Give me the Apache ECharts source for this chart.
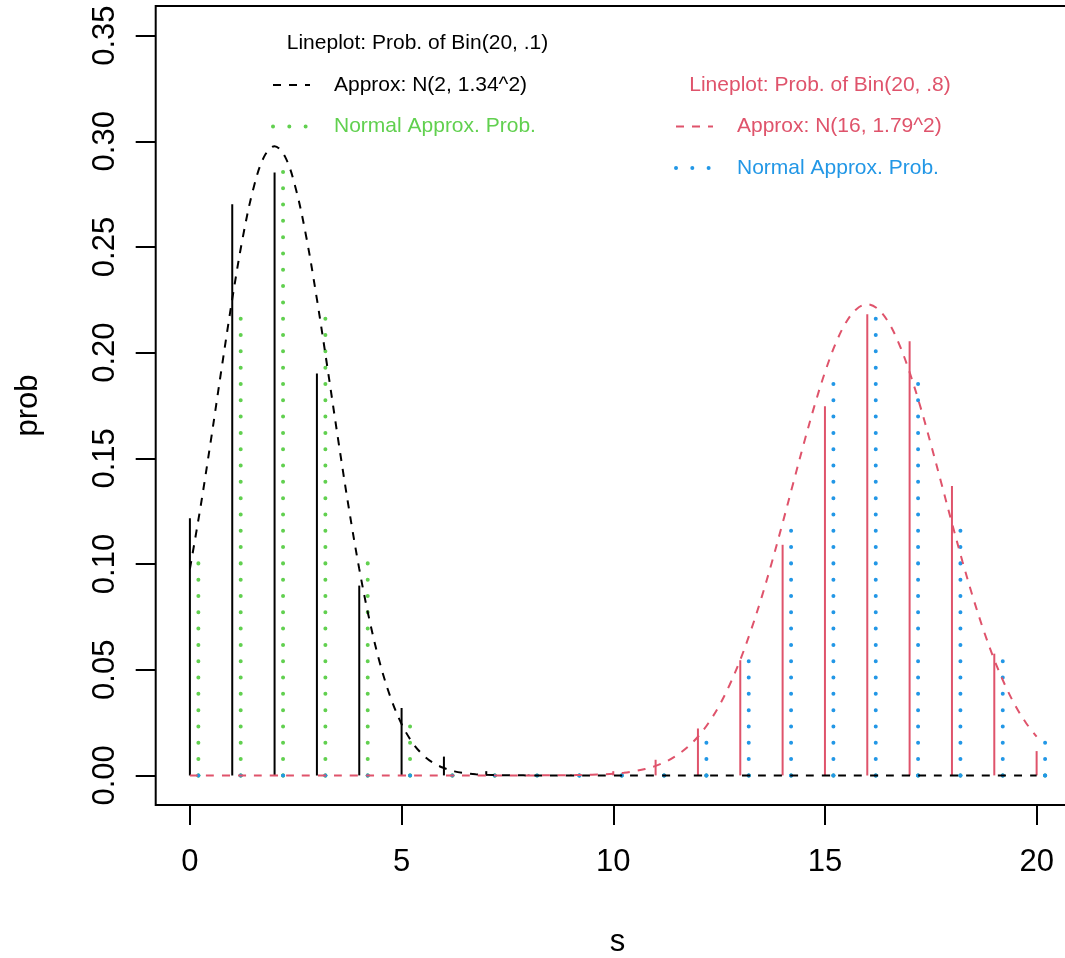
<!DOCTYPE html>
<html>
<head>
<meta charset="utf-8">
<script src="https://cdn.jsdelivr.net/npm/echarts@6/dist/echarts.min.js"></script>
<style>
html,body{margin:0;padding:0;background:#fff;}
#chart{width:1065px;height:958px;}
</style>
</head>
<body>
<div id="chart"></div>
<script>
// ---- data ----
const sValues = [0,1,2,3,4,5,6,7,8,9,10,11,12,13,14,15,16,17,18,19,20];
const binProb01 = [0.1216,0.2702,0.2852,0.1901,0.0898,0.0319,0.0089,0.0020,0.0004,0.0001,0,0,0,0,0,0,0,0,0,0,0];
const normProb01 = [0.1005,0.2230,0.2909,0.2230,0.1005,0.0265,0.0041,0.0004,0,0,0,0,0,0,0,0,0,0,0,0,0];
const binProb08 = [0,0,0,0,0,0,0,0,0.0001,0.0005,0.0020,0.0074,0.0222,0.0545,0.1091,0.1746,0.2182,0.2054,0.1369,0.0576,0.0115];
const normProb08 = [0,0,0,0,0,0,0,0,0,0.0001,0.0009,0.0049,0.0193,0.0560,0.1197,0.1890,0.2200,0.1890,0.1197,0.0560,0.0193];

const curve1X = [0,0.25,0.5,0.75,1,1.25,1.5,1.75,2,2.25,2.5,2.75,3,3.25,3.5,3.75,4,4.25,4.5,4.75,5,5.25,5.5,5.75,6,6.25,6.5,6.75,7,7.25,7.5,7.75,8,9,10,11,12,13,14,15,16,17,18,19,20];
const curve1Y = [0.0977,0.1269,0.1591,0.1927,0.2253,0.2546,0.2777,0.2926,0.2977,0.2926,0.2777,0.2546,0.2253,0.1927,0.1591,0.1269,0.0977,0.0727,0.0522,0.0363,0.0243,0.0157,0.0098,0.0059,0.0035,0.0019,0.0011,0.00056,0.0003,0.00014,0.00006,0.00003,0.00001,0,0,0,0,0,0,0,0,0,0,0,0];
const curve2X = [0,1,2,3,4,5,6,7,8,9,9.25,9.5,9.75,10,10.25,10.5,10.75,11,11.25,11.5,11.75,12,12.25,12.5,12.75,13,13.25,13.5,13.75,14,14.25,14.5,14.75,15,15.25,15.5,15.75,16,16.25,16.5,16.75,17,17.25,17.5,17.75,18,18.25,18.5,18.75,19,19.25,19.5,19.75,20];
const curve2Y = [0,0,0,0,0,0,0,0,0.00001,0.00011,0.00018,0.00031,0.0005,0.00081,0.00128,0.0020,0.0030,0.0045,0.0066,0.0095,0.0133,0.0183,0.0248,0.0329,0.0429,0.0547,0.0685,0.0840,0.1011,0.1194,0.1382,0.1569,0.1747,0.1907,0.2042,0.2144,0.2207,0.2229,0.2207,0.2144,0.2042,0.1907,0.1747,0.1569,0.1382,0.1194,0.1011,0.0840,0.0685,0.0547,0.0429,0.0329,0.0248,0.0183];

const xTicks = [0,5,10,15,20];
const yTicks = [0,0.05,0.10,0.15,0.20,0.25,0.30,0.35];

const legend1Title = 'Lineplot: Prob. of Bin(20, .1)';
const legend1Rows = ['Approx: N(2, 1.34^2)', 'Normal Approx. Prob.'];
const legend2Title = 'Lineplot: Prob. of Bin(20, .8)';
const legend2Rows = ['Approx: N(16, 1.79^2)', 'Normal Approx. Prob.'];

// ---- styles ----
const BLACK = '#000000', RED = '#DF536B', GREEN = '#61D04F', BLUE = '#2297E6';
const FONT = '"Liberation Sans", Arial, Helvetica, sans-serif';
const DASH = [8, 8];
const DOT = [0.01, 16.3];
const DOT_W = 4;
const dotOffset = 0.2;

function pairs(xs, ys, off) { return xs.map((x, i) => [x + (off || 0), ys[i]]); }

function spikeSeries(data, color, dotted) {
  return {
    type: 'custom',
    data: data,
    clip: true,
    renderItem: function (params, api) {
      const x = api.value(0), y = api.value(1);
      const p0 = api.coord([x, 0]);
      const p1 = api.coord([x, y]);
      const style = dotted
        ? { stroke: color, lineWidth: DOT_W, lineDash: DOT, lineCap: 'round', fill: null }
        : { stroke: color, lineWidth: 2, fill: null };
      const children = [{ type: 'line', shape: { x1: p0[0], y1: p0[1], x2: p1[0], y2: p1[1] }, style: style }];
      if (dotted) {
        children.push({ type: 'circle', shape: { cx: p0[0], cy: p0[1], r: DOT_W / 2 }, style: { fill: color } });
      }
      return { type: 'group', children: children };
    }
  };
}

function curveSeries(data, color) {
  return {
    type: 'line', data: data, showSymbol: false, symbol: 'none', smooth: 0.35,
    lineStyle: { color: color, width: 2, type: DASH }, clip: true
  };
}

// legend graphics (R style legends)
function legendGraphics() {
  const g = [];
  const txt = (x, y, s, color, align) => ({
    type: 'text', x: x, y: y,
    style: { text: s, fill: color, font: '21px ' + FONT, textAlign: align || 'left', textVerticalAlign: 'middle' }
  });
  const seg = (x1, x2, y, color, dotted) => ({
    type: 'line', shape: { x1: x1, y1: y, x2: x2, y2: y },
    style: dotted
      ? { stroke: color, lineWidth: DOT_W, lineDash: DOT, lineCap: 'round' }
      : { stroke: color, lineWidth: 2, lineDash: DASH }
  });
  // block 1
  g.push(txt(417.5, 43.5, legend1Title, BLACK, 'center'));
  g.push(seg(273, 310, 85, BLACK, false));
  g.push(txt(334, 85, legend1Rows[0], BLACK));
  g.push(seg(273, 310, 126.5, GREEN, true));
  g.push(txt(334, 126.5, legend1Rows[1], GREEN));
  // block 2
  g.push(txt(820, 85, legend2Title, RED, 'center'));
  g.push(seg(676, 713, 126.5, RED, false));
  g.push(txt(737, 126.5, legend2Rows[0], RED));
  g.push(seg(676, 713, 168, BLUE, true));
  g.push(txt(737, 168, legend2Rows[1], BLUE));
  return g;
}

const chart = echarts.init(document.getElementById('chart'), null, { renderer: 'canvas' });
chart.setOption({
  animation: false,
  backgroundColor: '#ffffff',
  textStyle: { fontFamily: FONT },
  grid: {
    left: 155.7, top: 6, width: 923.6, height: 799,
    show: true, borderColor: '#000', borderWidth: 2, backgroundColor: 'transparent',
    containLabel: false, outerBoundsMode: 'none'
  },
  xAxis: {
    type: 'value', min: -0.808, max: 21.008,
    name: 's', nameLocation: 'middle', nameGap: 122,
    nameTextStyle: { fontSize: 31, color: BLACK, fontFamily: FONT },
    axisLine: { show: false, onZero: false },
    axisTick: { show: true, inside: false, length: 20, customValues: xTicks, lineStyle: { color: BLACK, width: 2 } },
    axisLabel: { show: true, customValues: xTicks, fontSize: 31, color: BLACK, margin: 42, fontFamily: FONT,
      formatter: v => String(v) },
    splitLine: { show: false }
  },
  yAxis: {
    type: 'value', min: -0.014, max: 0.364,
    name: 'prob', nameLocation: 'middle', nameGap: 112, nameRotate: 90,
    nameTextStyle: { fontSize: 31, color: BLACK, fontFamily: FONT },
    axisLine: { show: false, onZero: false },
    axisTick: { show: true, inside: false, length: 20, customValues: yTicks, lineStyle: { color: BLACK, width: 2 } },
    axisLabel: { show: true, customValues: yTicks, fontSize: 31, color: BLACK, margin: 35, rotate: 90, fontFamily: FONT,
      formatter: v => v.toFixed(2) },
    splitLine: { show: false }
  },
  series: [
    spikeSeries(pairs(sValues, binProb01, 0), BLACK, false),
    curveSeries(pairs(curve1X, curve1Y, 0), BLACK),
    spikeSeries(pairs(sValues, normProb01, dotOffset), GREEN, true),
    spikeSeries(pairs(sValues, binProb08, 0), RED, false),
    curveSeries(pairs(curve2X, curve2Y, 0), RED),
    spikeSeries(pairs(sValues, normProb08, dotOffset), BLUE, true)
  ],
  graphic: legendGraphics()
});
</script>
</body>
</html>
